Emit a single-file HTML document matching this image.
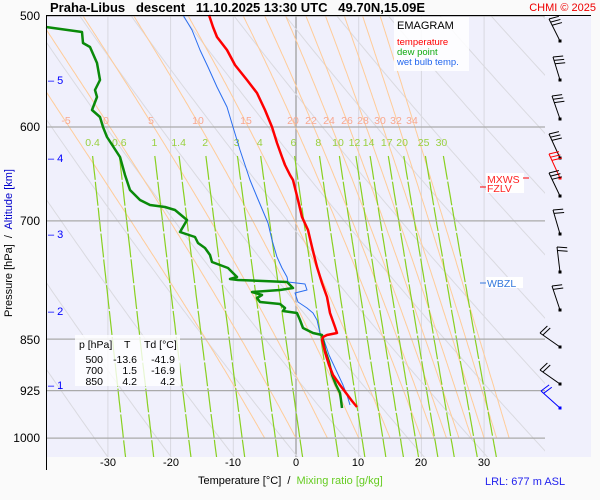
<!DOCTYPE html>
<html><head><meta charset="utf-8">
<style>
html,body{margin:0;padding:0;background:#fafafa;}
svg{display:block;font-family:"Liberation Sans",sans-serif;}
</style></head>
<body>
<svg id="s" width="600" height="500" xmlns="http://www.w3.org/2000/svg">
<rect x="0" y="0" width="600" height="500" fill="#fafafa"/>
<rect x="46" y="16" width="545" height="441" fill="#f0f0fc"/>
<defs><clipPath id="c"><rect x="46" y="16" width="499" height="441"/></clipPath></defs>
<g id="grid" clip-path="url(#c)"></g>
<g id="fg"></g>
<line x1="46" y1="15.5" x2="591" y2="15.5" stroke="#000" stroke-width="1"/>
<line x1="46.5" y1="15" x2="46.5" y2="470" stroke="#000" stroke-width="1"/>
<text x="50" y="12" font-size="13" font-weight="bold" fill="#000" style="white-space:pre">Praha-Libus   descent   11.10.2025 13:30 UTC   49.70N,15.09E</text>
<text x="596" y="11" font-size="11" fill="#e00" text-anchor="end">CHMI © 2025</text>
<g font-size="12" fill="#000" text-anchor="end">
<text x="40" y="20">500</text><text x="40" y="131">600</text><text x="40" y="225">700</text>
<text x="40" y="344">850</text><text x="40" y="395">925</text><text x="40" y="442">1000</text>
</g>
<text transform="translate(12,243) rotate(-90)" font-size="11" text-anchor="middle" style="white-space:pre"><tspan fill="#000">Pressure [hPa]  /  </tspan><tspan fill="#00c">Altitude [km]</tspan></text>
<g font-size="11" fill="#00f">
<text x="48" y="84">– 5</text><text x="48" y="162">– 4</text><text x="48" y="238">– 3</text><text x="48" y="315">– 2</text><text x="48" y="389">– 1</text>
</g>
<g font-size="11" fill="#000" text-anchor="middle">
<text x="108" y="466">-30</text><text x="171" y="466">-20</text><text x="233" y="466">-10</text><text x="296" y="466">0</text><text x="358" y="466">10</text><text x="421" y="466">20</text><text x="484" y="466">30</text>
</g>
<text x="198" y="484" font-size="11" fill="#000" style="white-space:pre">Temperature [°C]  /  <tspan fill="#6c2">Mixing ratio [g/kg]</tspan></text>
<text x="485" y="485" font-size="11" fill="#22e">LRL: 677 m ASL</text>
<rect x="394" y="17" width="75" height="54" fill="#fff" opacity="0.85"/>
<text x="397" y="29" font-size="11" fill="#000">EMAGRAM</text>
<text x="397" y="45" font-size="9.5" fill="#f00">temperature</text>
<text x="397" y="55" font-size="9.5" fill="#1a1">dew point</text>
<text x="397" y="65" font-size="9.5" fill="#26e">wet bulb temp.</text>
<rect x="75" y="335" width="105" height="51" fill="#fff" opacity="0.8"/>
<g font-size="10.5" fill="#000">
<text x="79" y="348">p [hPa]</text><text x="124" y="348">T</text><text x="144" y="348">Td [°C]</text>
<g text-anchor="end">
<text x="103" y="363">500</text><text x="137" y="363">-13.6</text><text x="175" y="363">-41.9</text>
<text x="103" y="374">700</text><text x="137" y="374">1.5</text><text x="175" y="374">-16.9</text>
<text x="103" y="385">850</text><text x="137" y="385">4.2</text><text x="175" y="385">4.2</text>
</g></g>
<rect x="486" y="173" width="38" height="20" fill="#fff"/>
<text x="487" y="183" font-size="10.5" fill="#f22">MXWS</text>
<text x="487" y="192" font-size="10.5" fill="#f22">FZLV</text>
<line x1="523" y1="178" x2="529" y2="178" stroke="#f00"/>
<line x1="480" y1="187" x2="486" y2="187" stroke="#f00"/>
<rect x="486" y="277" width="37" height="11" fill="#fff"/>
<text x="487" y="287" font-size="10.5" fill="#37d">WBZL</text>
<line x1="480" y1="283" x2="486" y2="283" stroke="#37d"/>
</svg>
<script>
(function(){
var NS="http://www.w3.org/2000/svg";
var grid=document.getElementById("grid"),fg=document.getElementById("fg");
function Y(p){return 16+609*Math.log(p/500);}
function X(t){return 296+t*6.27;}
function P(y){return 500*Math.exp((y-16)/609);}
function el(par,tag,a){var e=document.createElementNS(NS,tag);for(var k in a)e.setAttribute(k,a[k]);par.appendChild(e);return e;}
function poly(par,pts,col,w,dash){var d=pts.map(function(q){return q[0].toFixed(1)+","+q[1].toFixed(1)}).join(" ");var a={points:d,fill:"none",stroke:col,"stroke-width":w,"stroke-linejoin":"round"};if(dash)a["stroke-dasharray"]=dash;el(par,"polyline",a);}
var pb=P(457),i,t,p;
for(t=-50;t<=40;t+=10){var x=X(t);el(grid,"line",{x1:x,y1:16,x2:x,y2:457,stroke:t==0?"#999":"#d8d8e0","stroke-width":t==0?1.2:1});}
for(var th=211;th<=481;th+=10){var pts=[];for(p=480;p<=pb+5;p+=5){var T=th*Math.pow(p/1000,0.286)-273.15;pts.push([X(T),Y(p)]);}poly(grid,pts,"#dadae0",1);}
function es(T){return 6.112*Math.exp(17.67*T/(T+243.5));}
var thw=[-5,0,5,10,15,20,22,24,26,28,30,32,34];
thw.forEach(function(tw){var T=tw+273.15,pts=[],pp=1000;pts.push([X(tw),Y(1000)]);
 while(pp>480){var e=es(T-273.15),rs=0.622*e/(pp-e),Lv=2.5e6;
  var dT=(287*T+Lv*rs)/(1004+Lv*Lv*rs*0.622/(287*T*T));var dp=-2;T+=dT*dp/pp;pp+=dp;pts.push([X(T-273.15),Y(pp)]);}
 poly(grid,pts,"#ffcc99",1);});
[500,600,700,850,925,1000].forEach(function(p){var y=Y(p);el(fg,"line",{x1:46,y1:y,x2:545,y2:y,stroke:"#aaa","stroke-width":1.3});});
var ws=[0.4,0.6,1,1.4,2,3,4,6,8,10,12,14,17,20,25,30];
ws.forEach(function(w){var pts=[];for(p=P(156);p<=pb+3;p+=5){var e=w*p/(622+w),l=Math.log(e/6.112);var T=243.5*l/(17.67-l);pts.push([X(T),Y(p)]);}
 poly(grid,pts,"#88d020",1.2,"24,2");});
var lg=el(fg,"g",{"font-size":"10.5","text-anchor":"middle"});
var tl=[[-5,66],[0,106],[5,151],[10,198],[15,246],[20,293],[22,311],[24,329],[26,347],[28,363],[30,380],[32,396],[34,412]];
tl.forEach(function(a){var t=el(lg,"text",{x:a[1],y:124,fill:"#f8a890"});t.textContent=a[0];});
ws.forEach(function(w){var e=w*600/(622+w),l=Math.log(e/6.112);var T=243.5*l/(17.67-l);var t=el(lg,"text",{x:X(T)+3,y:146,fill:"#99d040"});t.textContent=w;});
var wb=[[183,15],[192,30],[200,50],[208,67],[217,87],[227,107],[233,127],[240,150],[245,165],[250,180],[257,197],[268,223],[272,240],[277,257],[282,268],[287,277],[288,282],[305,284],[307,290],[295,293],[298,302],[307,308],[313,313],[317,320],[320,333],[323,337],[329,355],[336,370],[343,385],[347,395],[350,405]];
poly(fg,wb,"#2a6ef0",1);
var td=[[46,27],[82,32],[83,43],[90,47],[97,63],[100,80],[95,90],[97,97],[92,110],[100,117],[103,127],[107,137],[120,157],[125,175],[130,190],[140,200],[150,205],[165,207],[175,210],[187,220],[180,232],[195,237],[198,243],[205,248],[210,255],[212,262],[220,265],[228,268],[233,273],[237,277],[230,279],[238,280],[263,281],[287,282],[293,288],[280,290],[252,292],[262,295],[257,298],[260,302],[280,304],[285,308],[283,311],[297,313],[300,320],[303,328],[313,333],[322,335],[325,350],[329,362],[332,375],[336,385],[340,393],[341,400],[342,408]];
poly(fg,td,"#0a8a0a",2.5);
var tt=[[209,15],[213,27],[217,37],[227,50],[235,65],[247,80],[257,93],[265,110],[272,127],[277,143],[282,157],[285,165],[290,175],[293,180],[298,200],[302,217],[308,230],[312,247],[317,267],[322,283],[327,297],[330,313],[335,327],[337,333],[327,335],[323,337],[322,340],[325,352],[329,365],[333,375],[340,385],[346,393],[352,401],[357,407]];
poly(fg,tt,"#f00",2.5);
function barb(x,y,dx,dy,n,col){var L=Math.hypot(dx,dy),ux=dx/L,uy=dy/L,px=-uy,py=ux;
 var g=el(fg,"g",{stroke:col,"stroke-width":1,fill:"none"});
 el(g,"line",{x1:x,y1:y,x2:x+dx,y2:y+dy});
 for(var k=0;k<n;k++){var sx=x+dx-ux*3.5*k,sy=y+dy-uy*3.5*k;el(g,"line",{x1:sx,y1:sy,x2:sx+px*10-ux*2,y2:sy+py*10-uy*2});}
 el(fg,"rect",{x:x-1.5,y:y-1.5,width:3,height:3,fill:col});}
barb(560,41,-11,-22,3,"#000");barb(560,80,-7,-23,3,"#000");barb(560,119,-8,-23,3,"#000");
barb(560,158,-11,-24,3,"#000");barb(560,178,-11,-24,3,"#f00");barb(560,196,-11,-23,3,"#000");
barb(560,234,-7,-24,2,"#000");barb(560,272,-3,-25,2,"#000");barb(560,310,-8,-24,2,"#000");
barb(560,347,-20,-14,2,"#000");barb(560,384,-20,-14,2,"#000");barb(560,408,-19,-17,2,"#00f");
})();
</script>
</body></html>
